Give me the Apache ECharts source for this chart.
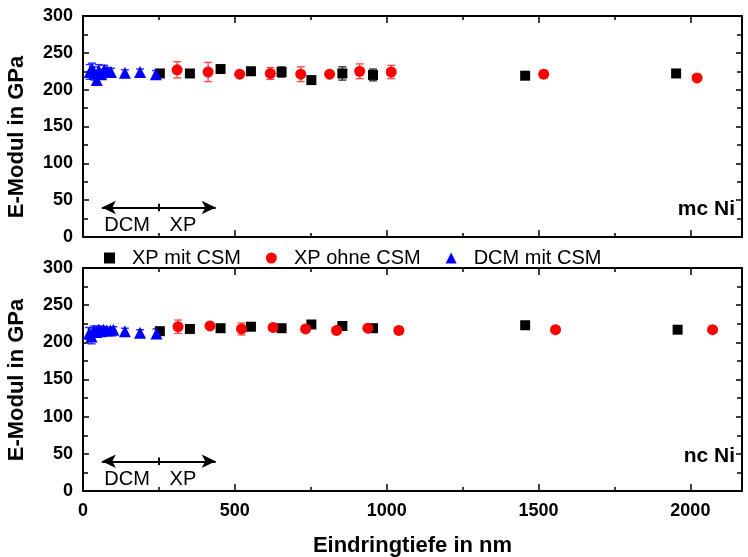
<!DOCTYPE html>
<html>
<head>
<meta charset="utf-8">
<script src="https://cdn.jsdelivr.net/npm/echarts@6/dist/echarts.min.js"></script>
<style>
  html, body { margin: 0; padding: 0; background: #fff; }
  #chart { width: 748px; height: 557px; }
</style>
</head>
<body>
<div id="chart"></div>
<script>
// Indentation depth (nm) vs. Young's modulus (GPa), mc Ni (top) and nc Ni (bottom)

// --- mc Ni ---
const mcXpCsmDepth   = [253, 352, 453, 553, 654, 752, 854, 955, 1456, 1953];
const mcXpCsmMod     = [222, 222, 228, 225, 224, 213, 222, 220, 219, 222];
const mcXpCsmErr     = [3, 3, 3, 4, 7, 4, 9, 8, 3, 3];

const mcXpNoCsmDepth = [310, 412, 516, 617, 717, 812, 911, 1015, 1517, 2022];
const mcXpNoCsmMod   = [227, 224, 221, 222, 221, 221, 225, 224, 221, 216];
const mcXpNoCsmErr   = [11, 13, 3, 8, 10, 3, 10, 9, 5, 2];

const mcDcmDepth     = [22, 30, 38, 45, 52, 60, 70, 80, 92, 138, 188, 240];
const mcDcmMod       = [224, 228, 222, 213, 226, 221, 227, 225, 224, 223, 224, 221];
const mcDcmErr       = [10, 8, 9, 7, 8, 6, 6, 5, 5, 4, 4, 5];

// --- nc Ni ---
const ncXpCsmDepth   = [253, 352, 453, 553, 654, 752, 854, 955, 1456, 1958];
const ncXpCsmMod     = [215, 218, 219, 221, 219, 224, 222, 219, 223, 217];
const ncXpCsmErr     = [3, 2, 2, 2, 3, 2, 2, 3, 2, 2];

const ncXpNoCsmDepth = [313, 418, 522, 626, 733, 835, 938, 1040, 1556, 2073];
const ncXpNoCsmMod   = [221, 222, 218, 220, 218, 216, 219, 216, 217, 217];
const ncXpNoCsmErr   = [9, 4, 8, 4, 4, 2, 3, 5, 2, 2];

const ncDcmDepth     = [20, 28, 36, 44, 52, 60, 68, 78, 90, 100, 138, 188, 242];
const ncDcmMod       = [212, 208, 216, 214, 217, 215, 217, 216, 216, 217, 215, 213, 212];
const ncDcmErr       = [8, 10, 6, 6, 5, 5, 4, 4, 4, 4, 4, 4, 6];

// axis ranges and labels
const xMin = 0, xMax = 2170, xStep = 500;
const yMin = 0, yMax = 300, yStep = 50;
const seriesNames = ['XP mit CSM', 'XP ohne CSM', 'DCM mit CSM'];
const panelLabels = ['mc Ni', 'nc Ni'];
const xName = 'Eindringtiefe in nm';
const yName = 'E-Modul in GPa';
const rangeArrow = { from: 62, split: 250, to: 437, level: 40, textLevel: 16, leftText: 'DCM', leftAt: 145, rightText: 'XP', rightAt: 329 };

const FONT = 'Liberation Sans, Arial, Helvetica, sans-serif';
const BLACK = '#000000', RED = '#ff0000', BLUE = '#0000ff';

const points = (xs, ys) => xs.map((x, i) => [x, ys[i]]);
const bars = (xs, ys, es) => xs.map((x, i) => [x, ys[i] - es[i], ys[i] + es[i]]);

function errorBarSeries(name, gi, data, color) {
  return {
    name: name, type: 'custom', xAxisIndex: gi * 2, yAxisIndex: gi * 2,
    silent: true, z: 1, data: data,
    renderItem: function (params, api) {
      const x = api.value(0);
      const lo = api.coord([x, api.value(1)]);
      const hi = api.coord([x, api.value(2)]);
      const cw = 4;
      const st = { stroke: color, lineWidth: 1.4 };
      return {
        type: 'group',
        children: [
          { type: 'line', shape: { x1: lo[0], y1: lo[1], x2: hi[0], y2: hi[1] }, style: st },
          { type: 'line', shape: { x1: lo[0] - cw, y1: lo[1], x2: lo[0] + cw, y2: lo[1] }, style: st },
          { type: 'line', shape: { x1: hi[0] - cw, y1: hi[1], x2: hi[0] + cw, y2: hi[1] }, style: st }
        ]
      };
    }
  };
}

function scatter(name, gi, data, color, symbol, size, z) {
  return {
    name: name, type: 'scatter', xAxisIndex: gi * 2, yAxisIndex: gi * 2,
    data: data, symbol: symbol, symbolSize: size, z: z,
    itemStyle: { color: color, opacity: 1 },
    emphasis: { disabled: true }
  };
}

// double arrow with DCM / XP captions, drawn in data units of each panel
function arrowSeries(gi) {
  const a = rangeArrow;
  return {
    name: 'range' + gi, type: 'scatter', xAxisIndex: gi * 2, yAxisIndex: gi * 2,
    data: [], silent: true,
    markLine: {
      silent: true, animation: false,
      symbol: ['arrow', 'arrow'], symbolSize: [10, 14],
      label: { show: false },
      lineStyle: { color: BLACK, width: 2, type: 'solid' },
      data: [
        [{ coord: [a.from, a.level] }, { coord: [a.to, a.level] }],
        [{ coord: [a.split, a.level - 5], symbol: 'none' }, { coord: [a.split, a.level + 5], symbol: 'none' }]
      ]
    },
    markPoint: {
      silent: true, animation: false, symbol: 'circle', symbolSize: 0,
      label: { show: true, position: 'inside', color: BLACK, fontFamily: FONT, fontSize: 20 },
      data: [
        { coord: [a.leftAt, a.textLevel], label: { formatter: a.leftText } },
        { coord: [a.rightAt, a.textLevel], label: { formatter: a.rightText } }
      ]
    }
  };
}

const grids = [
  { left: 83, right: 6, top: 16, height: 221, containLabel: false, outerBoundsMode: 'none' },
  { left: 83, right: 6, top: 268, height: 223, containLabel: false, outerBoundsMode: 'none' }
];

const xAxes = [], yAxes = [];
grids.forEach((g, gi) => {
  const last = gi === grids.length - 1;
  const xBase = {
    gridIndex: gi, type: 'value', min: xMin, max: xMax, interval: xStep,
    axisLine: { show: true, onZero: false, lineStyle: { color: BLACK, width: 2 } },
    axisTick: { show: true, inside: true, length: 7, lineStyle: { color: BLACK, width: 1.5 } },
    minorTick: { show: true, splitNumber: 2, length: 4, lineStyle: { color: BLACK, width: 1.5 } },
    splitLine: { show: false }
  };
  xAxes.push(Object.assign({}, xBase, {
    position: 'bottom',
    axisLabel: {
      show: last, color: BLACK, fontFamily: FONT, fontWeight: 'bold', fontSize: 18, margin: 11,
      showMaxLabel: false, formatter: v => String(v)
    },
    name: last ? xName : '', nameLocation: 'middle', nameGap: 44,
    nameTextStyle: { color: BLACK, fontFamily: FONT, fontWeight: 'bold', fontSize: 22 }
  }));
  xAxes.push(Object.assign({}, xBase, { position: 'top', axisLabel: { show: false } }));

  const yBase = {
    gridIndex: gi, type: 'value', min: yMin, max: yMax, interval: yStep,
    axisLine: { show: true, onZero: false, lineStyle: { color: BLACK, width: 2 } },
    axisTick: { show: true, inside: true, length: 6, lineStyle: { color: BLACK, width: 1.5 } },
    minorTick: { show: true, splitNumber: 2, length: 5, lineStyle: { color: BLACK, width: 1.5 } },
    splitLine: { show: false }
  };
  yAxes.push(Object.assign({}, yBase, {
    position: 'left',
    axisLabel: { color: BLACK, fontFamily: FONT, fontWeight: 'bold', fontSize: 18, margin: 10, formatter: v => String(v) }
  }));
  yAxes.push(Object.assign({}, yBase, { position: 'right', axisLabel: { show: false } }));
});

const series = [
  errorBarSeries('errA0', 0, bars(mcXpCsmDepth, mcXpCsmMod, mcXpCsmErr), '#333333'),
  errorBarSeries('errB0', 0, bars(mcXpNoCsmDepth, mcXpNoCsmMod, mcXpNoCsmErr), '#ff4d4d'),
  errorBarSeries('errC0', 0, bars(mcDcmDepth, mcDcmMod, mcDcmErr), '#2a2aff'),
  scatter(seriesNames[0], 0, points(mcXpCsmDepth, mcXpCsmMod), BLACK, 'rect', 10, 3),
  scatter(seriesNames[1], 0, points(mcXpNoCsmDepth, mcXpNoCsmMod), RED, 'circle', 11, 4),
  scatter(seriesNames[2], 0, points(mcDcmDepth, mcDcmMod), BLUE, 'triangle', 12, 5),

  errorBarSeries('errA1', 1, bars(ncXpCsmDepth, ncXpCsmMod, ncXpCsmErr), '#333333'),
  errorBarSeries('errB1', 1, bars(ncXpNoCsmDepth, ncXpNoCsmMod, ncXpNoCsmErr), '#ff4d4d'),
  errorBarSeries('errC1', 1, bars(ncDcmDepth, ncDcmMod, ncDcmErr), '#2a2aff'),
  scatter(seriesNames[0], 1, points(ncXpCsmDepth, ncXpCsmMod), BLACK, 'rect', 10, 3),
  scatter(seriesNames[1], 1, points(ncXpNoCsmDepth, ncXpNoCsmMod), RED, 'circle', 11, 4),
  scatter(seriesNames[2], 1, points(ncDcmDepth, ncDcmMod), BLUE, 'triangle', 12, 5),

  arrowSeries(0),
  arrowSeries(1)
];

const yNameGraphics = grids.map((g, gi) => ({
  type: 'text', x: 17, y: gi === 0 ? 137 : 380, rotation: Math.PI / 2,
  style: { text: yName, fill: BLACK, font: 'bold 22px ' + FONT, textAlign: 'center', textVerticalAlign: 'middle' }
}));
const panelGraphics = panelLabels.map((t, gi) => ({
  type: 'text', x: 735, y: gi === 0 ? 209 : 456,
  style: { text: t, fill: BLACK, font: 'bold 21px ' + FONT, textAlign: 'right', textVerticalAlign: 'middle' }
}));

const chart = echarts.init(document.getElementById('chart'), null, { renderer: 'canvas' });
chart.setOption({
  animation: false,
  backgroundColor: '#ffffff',
  textStyle: { fontFamily: FONT },
  grid: grids,
  xAxis: xAxes,
  yAxis: yAxes,
  legend: {
    data: seriesNames,
    top: 243, left: 99,
    itemWidth: 11, itemHeight: 11, itemGap: 25,
    textStyle: { color: BLACK, fontFamily: FONT, fontSize: 20, padding: [0, 0, 0, 12] },
    selectedMode: false
  },
  graphic: yNameGraphics.concat(panelGraphics),
  series: series
});
</script>
</body>
</html>
